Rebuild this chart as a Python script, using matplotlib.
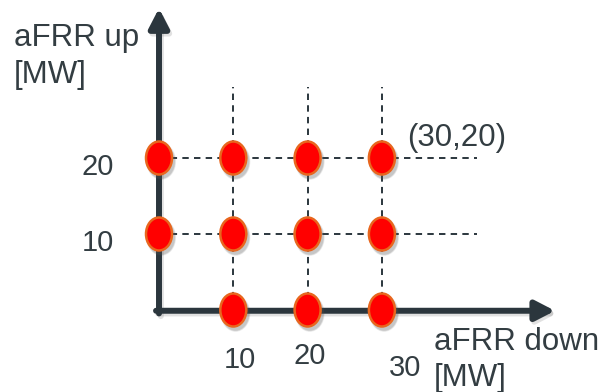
import matplotlib
matplotlib.use("Agg")
import matplotlib.pyplot as plt
from matplotlib.patches import Ellipse, FancyArrowPatch, ArrowStyle

# ---- data ----
down_mw = [0, 0, 10, 10, 10, 20, 20, 20, 30, 30, 30]
up_mw = [10, 20, 0, 10, 20, 0, 10, 20, 0, 10, 20]
x_grid = [10, 20, 30]
y_grid = [10, 20]
x_tick_labels = ["10", "20", "30"]
y_tick_labels = ["10", "20"]
corner_label = "(30,20)"

W, H = 607, 392
fig = plt.figure(figsize=(W / 100, H / 100), dpi=100)
ax = fig.add_axes([0, 0, 1, 1])
# pixel mapping: x_px = 159 + 7.43*x ; y_px = 310 - 7.6*y
sx, sy, x0, y0 = 7.43, 7.6, 159, 310
ax.set_xlim(-x0 / sx, (W - x0) / sx)
ax.set_ylim((y0 - H) / sy, y0 / sy)
ax.axis("off")

dark = "#2b363d"
txt = "#333d42"
plt.rcParams["font.family"] = ["Liberation Sans", "DejaVu Sans"]


def fp(px, py):
    return px / W, 1 - py / H


# dashed grid lines
for yv in y_grid:
    ax.plot([0, 42.8], [yv, yv], color=dark, lw=1.4,
            linestyle=(0, (3.3, 2.7)), zorder=2)
for xv in x_grid:
    ax.plot([xv, xv], [0, 29.4], color=dark, lw=1.4,
            linestyle=(0, (3.3, 2.7)), zorder=2)

# axes arrows (with soft shadow)
style = ArrowStyle("-|>", head_length=0.58, head_width=0.3)
for dx, dy, col, a in [(0.25, -0.35, "#888888", 0.25), (0, 0, dark, 1)]:
    ax.add_patch(FancyArrowPatch((0 + dx, -0.45 + dy), (0 + dx, 39.7 + dy),
                                 arrowstyle=style, mutation_scale=20, lw=4.3,
                                 color=col, alpha=a, shrinkA=0, shrinkB=0,
                                 zorder=3))
    ax.add_patch(FancyArrowPatch((-0.4 + dx, -0.1 + dy), (53.3 + dx, -0.1 + dy),
                                 arrowstyle=style, mutation_scale=20, lw=4.3,
                                 color=col, alpha=a, shrinkA=0, shrinkB=0,
                                 zorder=3))

# points as ellipses with shadow
ew, eh = 26 / sx, 33 / sy
for xv, yv in zip(down_mw, up_mw):
    for k, al in [(1.0, 0.10), (0.7, 0.12), (0.4, 0.15)]:
        ax.add_patch(Ellipse((xv + 0.3, yv - 0.45), ew + k * 0.5, eh + k * 0.5,
                             facecolor="#555555", edgecolor="none", alpha=al,
                             zorder=4))
    ax.add_patch(Ellipse((xv, yv), ew, eh, facecolor="#ff0000",
                         edgecolor="#e8661e", lw=1.8, zorder=5))

fs = 21
fs2 = 22.5
# y tick labels
for lab, py in zip(y_tick_labels, [243, 167]):
    fig.text(*fp(98, py), lab, fontsize=fs, color=txt, ha="center", va="center")
# x tick labels
for lab, (px, py) in zip(x_tick_labels, [(240, 360), (310, 356), (405, 368)]):
    fig.text(*fp(px, py), lab, fontsize=fs, color=txt, ha="center", va="center")

fig.text(*fp(457, 138), corner_label, fontsize=fs2, color=txt, ha="center", va="center")
fig.text(*fp(14, 38), "aFRR up", fontsize=fs2, color=txt, ha="left", va="center")
fig.text(*fp(14, 75), "[MW]", fontsize=fs2, color=txt, ha="left", va="center")
fig.text(*fp(434, 342), "aFRR down", fontsize=fs2, color=txt, ha="left", va="center")
fig.text(*fp(434, 378), "[MW]", fontsize=fs2, color=txt, ha="left", va="center")

fig.savefig("out.png", dpi=100, facecolor="white")
